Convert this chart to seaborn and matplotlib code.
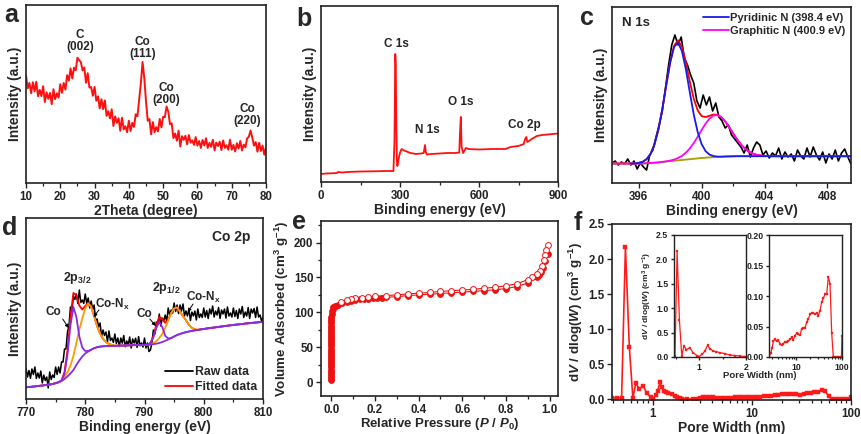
import numpy as np
import matplotlib
matplotlib.use("Agg")
import matplotlib.pyplot as plt
from matplotlib.ticker import MultipleLocator, FixedLocator, LogLocator, NullFormatter, FuncFormatter
from matplotlib.lines import Line2D
import seaborn as sns

# ---------------- data ----------------
# (a) XRD, 10-80 deg, 0.5 deg steps (relative intensity)
xrd_int = [60.5, 53.2, 56.2, 50.4, 56.6, 51.5, 56.9, 48.7, 52.3, 48.8, 54.4, 45.5, 50.9, 47.3, 50.6,
           44.3, 52.7, 47.1, 50.4, 48.0, 55.5, 50.7, 56.2, 52.4, 60.6, 57.5, 64.4, 58.7, 64.8, 63.3,
           70.4, 69.0, 67.9, 63.3, 64.9, 56.3, 61.7, 53.6, 53.9, 49.0, 54.0, 46.2, 48.7, 41.9, 47.1,
           41.5, 46.4, 37.7, 40.3, 36.3, 41.4, 32.0, 37.4, 33.8, 36.4, 29.3, 36.7, 30.1, 31.9, 28.5,
           35.0, 29.2, 33.8, 31.5, 38.6, 37.5, 47.0, 56.0, 68.0, 59.0, 46.0, 35.0, 35.9, 27.3, 34.2,
           28.6, 31.4, 29.0, 36.0, 31.2, 37.2, 37.0, 43.0, 40.0, 33.0, 33.5, 25.2, 27.8, 23.8, 29.4,
           20.5, 26.3, 24.2, 26.5, 21.7, 26.9, 22.7, 24.0, 21.4, 25.8, 21.0, 23.6, 19.7, 24.2, 21.1,
           25.2, 19.7, 22.5, 20.3, 24.3, 18.3, 22.7, 20.8, 23.2, 18.5, 23.9, 19.7, 21.2, 18.7, 24.3,
           18.7, 21.4, 17.7, 22.3, 19.4, 23.6, 18.3, 21.6, 20.0, 25.0, 26.0, 29.5, 25.5, 21.0, 23.0,
           17.6, 22.6, 18.0, 21.0, 15.9, 20.0]
xrd_theta = np.linspace(10, 80, len(xrd_int))
xrd_labels = [("C\n(002)", 25.7, 80), ("Co\n(111)", 44.0, 76), ("Co\n(200)", 51.0, 50), ("Co\n(220)", 74.5, 38)]

# (b) XPS survey
svy_be = [0, 20, 40, 60, 65, 80, 100, 150, 200, 250, 275, 279, 282, 284, 286, 288, 290, 293, 297, 301,
          306, 312, 320, 340, 360, 380, 390, 395, 398, 402, 420, 450, 480, 510, 525, 528, 531, 534, 540,
          550, 560, 600, 650, 700, 720, 750, 770, 775, 780, 783, 790, 800, 820, 840, 860, 880, 900]
svy_int = [8, 8.5, 8.7, 9, 10, 9.5, 10, 10.5, 10.7, 11, 11, 40, 128, 118, 60, 22, 16, 20, 26, 30,
           33, 32, 31, 29, 28, 28.5, 29, 37, 30, 27.5, 28, 28.5, 29, 29, 29.5, 50, 65, 35, 29,
           34, 33, 32.5, 33, 33, 35, 36, 38, 43, 45, 40, 41, 43, 46, 47, 47.5, 48, 48.5]
svy_labels = [("C 1s", 285, 138), ("N 1s", 404, 52), ("O 1s", 531, 80), ("Co 2p", 774, 57)]

# (c) N 1s
n1s_raw = [20, 22, 18, 21, 19, 24, 18, 22, 14, 20, 16, 13, 28, 33, 46, 58, 72, 95, 118, 138, 148,
           138, 146, 125, 118, 108, 100, 82, 75, 88, 78, 86, 72, 80, 66, 62, 55, 58, 48, 44, 40, 36,
           30, 38, 26, 35, 41, 38, 28, 32, 25, 30, 27, 35, 24, 31, 26, 29, 22, 33, 27, 24, 35, 26, 36,
           28, 23, 31, 20, 29, 24, 33, 22, 30, 34, 26, 19]
n1s_raw_be = np.linspace(394.3, 409.5, len(n1s_raw))
n1s_be = np.linspace(394.0, 410.0, 65)
n1s_bg = ([19.5] * 9 +
          [19.6, 19.8, 20.0, 20.3, 20.6, 21.0, 21.4, 21.8, 22.2, 22.6, 23.0, 23.4, 23.8, 24.2, 24.6,
           25.0, 25.3, 25.6, 25.9, 26.1, 26.3, 26.5, 26.6, 26.7] +
          [26.8] * 32)
n1s_pyr = ([0.0] * 8 +
           [0.6, 1.6, 4.0, 9.0, 18.2, 32.8, 52.9, 76.3, 98.6, 113.9, 117.8, 108.9, 90.2, 66.8, 44.3,
            26.3, 13.9, 6.6, 2.8, 1.1, 0.3] +
           [0.0] * 36)
n1s_gra = ([0.0] * 14 +
           [0.1, 0.3, 0.6, 1.2, 2.4, 4.2, 6.9, 10.8, 15.8, 21.7, 28.0, 34.0, 38.8, 41.5, 41.8, 39.5,
            35.1, 29.3, 22.9, 16.9, 11.7, 7.6, 4.6, 2.6, 1.4, 0.7, 0.3] +
           [0.0] * 24)

# (d) Co 2p
co_raw = [31, 22, 28.5, 20.7, 30, 24.5, 32, 20.5, 26, 21, 28, 16, 24, 18.5, 22, 11, 27, 19.5, 24, 21.5,
          32, 24.5, 32, 26, 37, 37, 50, 50, 67, 73, 92, 88, 103, 99.5, 105, 95.5, 109, 96.5, 99, 95.5,
          105, 95.5, 101, 91, 98, 89.5, 94, 78.5, 80, 72, 76, 62.5, 69, 63.5, 67, 57.5, 68, 58.5, 61,
          56.5, 65, 55.5, 61, 52.5, 61, 55.8, 63.5, 52.2, 58, 54, 62, 51, 60, 56, 60.8, 51.6, 62.4,
          53.2, 56, 52, 61, 51, 56, 47.5, 49, 56, 69, 65, 77, 75, 85, 73, 81, 78, 84, 77.5, 91, 84, 89,
          86, 96, 87.5, 94, 85.5, 94, 88, 95, 83, 88, 83, 90, 78.5, 87, 83, 88, 79, 90, 81.5, 85, 81.5,
          91, 82, 88.5, 80.5, 90, 85, 93, 82, 88, 84, 91.5, 80.5, 89, 85, 90, 81, 92, 83, 86, 82, 91,
          82.5, 88.5, 80.5, 90, 85, 92.5, 81.5, 87, 83, 91.5, 80.5, 90, 86, 90.5, 81.5, 92, 82, 84, 78, 82]
co_raw_be = np.linspace(770, 810, len(co_raw))
co_be = np.linspace(770, 810, 81)
co_bg = [11.7, 12, 12.3, 12.6, 13, 13.3, 13.7, 14.1, 14.5, 15, 15.8, 16.8, 18, 20, 22.5, 25.5, 29, 34,
         38.5, 42.5, 45.5, 47.5, 49.3, 50.8, 51.8, 52.4, 52.7, 52.9, 53, 53.1, 53.2, 53.3, 53.4, 53.5,
         53.6, 53.7, 53.8, 53.9, 54, 54, 54.1, 54.2, 54.4, 54.8, 55.3, 56, 57, 58.2, 59.5, 61, 62.5, 64,
         65, 66, 66.8, 67.5, 68.1, 68.6, 69.1, 69.6, 70, 70.5, 70.9, 71.3, 71.7, 72.1, 72.5, 72.9, 73.3,
         73.7, 74, 74.4, 74.7, 75, 75.4, 75.7, 76, 76.3, 76.6, 76.9, 77.2]
co_metal = ([0.0] * 12 + [0.5, 5, 22, 48, 63, 48, 24, 9, 2.5, 0.5] + [0.0] * 20 +
            [1.5, 7, 16, 21, 15, 5, 1] + [0.0] * 32)
co_nx = ([0.0] * 13 + [2, 4, 8, 14, 22, 31, 38, 45, 48, 43, 32, 21, 13, 7.5, 4, 2, 1] + [0.0] * 13 +
         [1, 2.5, 5, 8, 13, 19, 25, 28, 27.5, 22, 17, 12, 6.5, 3, 1] + [0.0] * 23)

# (e) N2 isotherm
ads_p = ([0.001] * 31 + [0.002, 0.004, 0.007, 0.01, 0.015, 0.02, 0.03, 0.05, 0.07, 0.09, 0.11, 0.13,
         0.15, 0.17, 0.19, 0.21, 0.23, 0.25, 0.3, 0.35, 0.4, 0.45, 0.5, 0.55, 0.6, 0.65, 0.7, 0.75,
         0.8, 0.85, 0.9, 0.94, 0.95, 0.96, 0.97, 0.98, 0.99])
ads_v = ([3, 6, 9, 12, 15, 18, 21, 24, 27, 30, 33, 36, 39, 42, 45, 48, 51, 54, 57, 60, 63, 66, 69, 72,
          75, 78, 81, 84, 87, 90, 93] +
         [98, 102, 105, 107, 108.5, 109.5, 111, 113.5, 115, 116.5, 117.5, 118.5, 119, 119.5, 120,
          120.5, 121, 121.5, 122.5, 124, 125, 126, 127, 128, 129, 130, 131, 132.5, 134, 137, 142,
          150, 153, 158, 163, 173, 183])
des_p = [0.99, 0.985, 0.98, 0.975, 0.965, 0.955, 0.94, 0.92, 0.9, 0.85, 0.8, 0.75, 0.7, 0.65, 0.6,
         0.55, 0.5, 0.45, 0.4, 0.35, 0.3, 0.25, 0.2, 0.17, 0.14, 0.11, 0.09, 0.07, 0.045]
des_v = [196, 190, 182, 175, 166, 160, 155, 150, 147, 141, 138, 136, 134.5, 133, 132, 131, 130,
         128.5, 127.5, 126.5, 125, 124, 123, 122, 121, 120, 119, 117.5, 115.5]

# (f) pore size distribution
pw_small = [0.39, 0.44, 0.485, 0.53, 0.58, 0.63, 0.675, 0.73, 0.8, 0.87, 0.95, 1.0, 1.07, 1.12, 1.18,
            1.23, 1.3, 1.37, 1.44, 1.55, 1.66, 1.77, 1.87, 1.98]
dv_small = [0.02, 0.02, 0.02, 2.17, 0.75, 0.02, 0.23, 0.15, 0.19, 0.09, 0.03, 0.01, 0.06, 0.12, 0.24,
            0.17, 0.12, 0.11, 0.09, 0.07, 0.04, 0.03, 0.02, 0.01]
pw_large = [2.2, 2.57, 2.8, 3.0, 3.2, 3.47, 3.75, 4.1, 4.46, 4.9, 5.27, 5.7, 6.2, 6.8, 7.4, 8.0, 8.7,
            9.4, 10.3, 11.2, 12.2, 13.2, 14.4, 15.6, 17.0, 18.5, 20.1, 21.9, 23.7, 25.8, 28.1, 30.5,
            33.2, 36.0, 39.2, 42.6, 46.4, 50.4, 54.8, 59.6, 64.6, 70, 76, 83, 90, 97, 100]
dv_large = [0.01, 0.0, 0.007, 0.014, 0.026, 0.029, 0.026, 0.028, 0.021, 0.019, 0.022, 0.024, 0.025,
            0.026, 0.029, 0.032, 0.028, 0.035, 0.039, 0.037, 0.036, 0.046, 0.048, 0.047, 0.057, 0.062,
            0.070, 0.072, 0.072, 0.070, 0.072, 0.068, 0.076, 0.090, 0.096, 0.103, 0.103, 0.131, 0.120,
            0.040, 0.0, 0.0, 0.0, 0.0, 0.0, 0.0, 0.035]

# ---------------- style ----------------
sns.set_theme(style="ticks")
plt.rcParams.update({
    "font.family": ["Liberation Sans", "DejaVu Sans"],
    "font.weight": "bold",
    "axes.labelweight": "bold",
    "axes.linewidth": 1.2,
    "axes.edgecolor": "#222222",
    "xtick.color": "#222222", "ytick.color": "#222222",
    "xtick.labelsize": 8.3, "ytick.labelsize": 8.3,
    "xtick.major.size": 3.5, "ytick.major.size": 3.5,
    "xtick.minor.size": 2.0, "ytick.minor.size": 2.0,
    "xtick.major.width": 1.0, "ytick.major.width": 1.0,
    "xtick.minor.width": 0.9, "ytick.minor.width": 0.9,
    "xtick.major.pad": 2.0, "ytick.major.pad": 2.0,
    "axes.labelsize": 10,
    "mathtext.fontset": "custom",
    "mathtext.rm": "Liberation Sans:bold",
    "mathtext.it": "Liberation Sans:italic:bold",
    "mathtext.bf": "Liberation Sans:bold",
    "mathtext.default": "rm",
})

W, H = 861, 434
fig = plt.figure(figsize=(W / 100, H / 100), dpi=100)


def rect(l, t, r, b):
    return [l / W, 1 - b / H, (r - l) / W, (b - t) / H]


def line(ax, x, y, color, lw=1.2, **kw):
    sns.lineplot(x=np.asarray(x, float), y=np.asarray(y, float), ax=ax, color=color, linewidth=lw,
                 sort=False, estimator=None, errorbar=None, legend=False, **kw)


def box(ax):
    for s in ax.spines.values():
        s.set_visible(True)
        s.set_linewidth(1.2)
    ax.tick_params(top=False, right=False, direction="out")


def letter(txt, x, y):
    fig.text(x / W, 1 - y / H, txt, fontsize=18, fontweight="bold", ha="left", va="baseline")


RED = "#ff1010"
ANN = 8.5

# ---- (a) ----
axa = fig.add_axes(rect(26, 5, 266, 183))
line(axa, xrd_theta, xrd_int, RED, 1.4)
axa.set_xlim(10, 80)
axa.set_ylim(0, 100)
axa.xaxis.set_major_locator(MultipleLocator(10))
axa.xaxis.set_minor_locator(MultipleLocator(5))
axa.set_yticks([])
axa.set_xlabel("2Theta (degree)", labelpad=1)
axa.set_ylabel("Intensity (a.u.)", labelpad=3)
for t, x, y in xrd_labels:
    axa.text(x, y, t, ha="center", va="center", fontsize=ANN, fontweight="bold", linespacing=1.0)
box(axa)

# ---- (b) ----
axb = fig.add_axes(rect(321, 6, 558, 182))
line(axb, svy_be, svy_int, RED, 1.3)
axb.set_xlim(0, 900)
axb.set_ylim(0, 176)
axb.xaxis.set_major_locator(FixedLocator([0, 300, 600, 900]))
axb.xaxis.set_minor_locator(FixedLocator([150, 450, 750]))
axb.set_yticks([])
axb.set_xlabel("Binding energy (eV)", labelpad=1)
axb.set_ylabel("Intensity (a.u.)", labelpad=3)
for t, x, y in svy_labels:
    axb.text(x, y, t, ha="center", va="center", fontsize=ANN, fontweight="bold")
box(axb)

# ---- (c) ----
axc = fig.add_axes(rect(612, 7, 851, 183))
bg_c = np.array(n1s_bg)
pyr_c = bg_c + np.array(n1s_pyr)
gra_c = bg_c + np.array(n1s_gra)
env_c = bg_c + np.array(n1s_pyr) + np.array(n1s_gra)
line(axc, n1s_raw_be, n1s_raw, "black", 1.2)
line(axc, n1s_be, env_c, "#ff0000", 1.3)
line(axc, n1s_be, bg_c, "#a0a000", 1.3)
line(axc, n1s_be, gra_c, "#ff00ff", 1.3)
line(axc, n1s_be[6:], pyr_c[6:], "#1a1ae6", 1.3)
axc.set_xlim(394.3, 409.5)
axc.set_ylim(0, 176)
axc.xaxis.set_major_locator(MultipleLocator(4))
axc.xaxis.set_minor_locator(MultipleLocator(2))
axc.set_yticks([])
axc.set_xlabel("Binding energy (eV)", labelpad=1)
axc.set_ylabel("Intensity (a.u.)", labelpad=3)
axc.text(0.04, 0.91, "N 1s", transform=axc.transAxes, fontsize=9.5, fontweight="bold", va="center")
hc = [Line2D([], [], color="#1a1ae6", lw=1.3), Line2D([], [], color="#ff00ff", lw=1.3)]
axc.legend(hc, ["Pyridinic N (398.4 eV)", "Graphitic N (400.9 eV)"], loc="upper right",
           frameon=False, fontsize=8, handlelength=2.3, handletextpad=0.15, labelspacing=0.3,
           borderaxespad=0.3, borderpad=0.2)
box(axc)

# ---- (d) ----
axd = fig.add_axes(rect(26, 218, 263, 399))
bg_d = np.array(co_bg)
met_d = bg_d + np.array(co_metal)
nx_d = bg_d + np.array(co_nx)
env_d = bg_d + np.array(co_metal) + np.array(co_nx)
PURPLE = "#8a2be2"
ORANGE = "#ff9a00"
line(axd, co_raw_be, co_raw, "black", 1.1)
line(axd, co_be, env_d, "#ff0000", 1.3)
line(axd, co_be, nx_d, ORANGE, 1.3)
line(axd, co_be, bg_d, PURPLE, 1.3)
line(axd, co_be, met_d, PURPLE, 1.3)
axd.set_xlim(770, 810)
axd.set_ylim(0, 181)
axd.xaxis.set_major_locator(MultipleLocator(10))
axd.xaxis.set_minor_locator(MultipleLocator(5))
axd.set_yticks([])
axd.set_xlabel("Binding energy (eV)", labelpad=1)
axd.set_ylabel("Intensity (a.u.)", labelpad=3)
axd.text(804.6, 162, "Co 2p", ha="center", va="center", fontsize=10, fontweight="bold")
axd.text(778.6, 121, "2p$_{3/2}$", ha="center", va="center", fontsize=9, fontweight="bold")
axd.text(793.7, 111, "2p$_{1/2}$", ha="center", va="center", fontsize=9, fontweight="bold")
anns = [("Co", (774.6, 87), (776.2, 80), (777.2, 71)),
        ("Co-N$_x$", (784.6, 95), (782.3, 89), (781.4, 82)),
        ("Co", (789.9, 85), (790.9, 80), (791.9, 73)),
        ("Co-N$_x$", (800.0, 102), (798.2, 95), (797.3, 87))]
for t, pos, tail, tip in anns:
    axd.text(pos[0], pos[1], t, ha="center", va="center", fontsize=ANN, fontweight="bold")
    axd.annotate("", xy=tip, xytext=tail,
                 arrowprops=dict(arrowstyle="-|>", lw=0.7, color="black", mutation_scale=5,
                                 shrinkA=0, shrinkB=0))
hd = [Line2D([], [], color="black", lw=1.3), Line2D([], [], color="#ff0000", lw=1.3)]
axd.legend(hd, ["Raw data", "Fitted data"], loc="lower right", frameon=False, fontsize=8.8,
           handlelength=2.3, handletextpad=0.15, labelspacing=0.3, borderaxespad=0.25, borderpad=0.2)
box(axd)

# ---- (e) ----
axe = fig.add_axes(rect(321, 221, 558, 396))
ER = "#ee1111"
line(axe, ads_p, ads_v, ER, 0.8, marker="o", markersize=4.2, markerfacecolor=ER,
     markeredgecolor=ER, markeredgewidth=0.6)
line(axe, des_p, des_v, ER, 0.8, marker="o", markersize=4.2, markerfacecolor="white",
     markeredgecolor=ER, markeredgewidth=0.7)
axe.set_xlim(-0.047, 1.038)
axe.set_ylim(-20, 231)
axe.xaxis.set_major_locator(MultipleLocator(0.2))
axe.xaxis.set_minor_locator(MultipleLocator(0.1))
axe.yaxis.set_major_locator(MultipleLocator(50))
axe.yaxis.set_minor_locator(MultipleLocator(25))
axe.xaxis.set_major_formatter(FuncFormatter(lambda v, p: f"{v:.1f}"))
axe.set_xlabel("Relative Pressure ($\\mathit{P}$ / $\\mathit{P}_{0}$)", fontsize=9.5, labelpad=0)
axe.set_ylabel("Volume Adsorbed (cm$^{3}$ g$^{-1}$)", labelpad=2, fontsize=9.6)
box(axe)

# ---- (f) ----
axf = fig.add_axes(rect(612, 224, 851, 400))
FR = "#ff1a1a"
pw_all = pw_small + pw_large
dv_all = dv_small + dv_large
line(axf, pw_all, dv_all, FR, 1.2, marker="s", markersize=3.4, markerfacecolor=FR,
     markeredgecolor=FR, markeredgewidth=0.3)
axf.set_xscale("log")
axf.set_xlim(0.388, 100)
axf.set_ylim(-0.01, 2.5)
axf.xaxis.set_major_locator(FixedLocator([1, 10, 100]))
axf.xaxis.set_minor_locator(LogLocator(base=10, subs=np.arange(2, 10)))
axf.xaxis.set_minor_formatter(NullFormatter())
axf.xaxis.set_major_formatter(FuncFormatter(lambda v, p: f"{v:g}"))
axf.yaxis.set_major_locator(MultipleLocator(0.5))
axf.yaxis.set_major_formatter(FuncFormatter(lambda v, p: f"{v:.1f}"))
axf.set_xlabel("Pore Width (nm)", labelpad=1)
axf.set_ylabel("d$\\mathit{V}$ / dlog($\\mathit{W}$) (cm$^{3}$ g$^{-1}$)", labelpad=2, fontsize=9.6)
box(axf)

# insets
ai1 = fig.add_axes(rect(674, 235, 746, 357))
line(ai1, pw_small, dv_small, FR, 0.9, marker="s", markersize=2.0, markerfacecolor=FR,
     markeredgecolor=FR, markeredgewidth=0.2)
ai1.set_xlim(0.464, 2.0)
ai1.set_ylim(0, 2.5)
ai1.xaxis.set_major_locator(FixedLocator([1, 2]))
ai1.xaxis.set_minor_locator(FixedLocator([0.5, 1.5]))
ai1.yaxis.set_major_locator(MultipleLocator(0.5))
ai1.yaxis.set_major_formatter(FuncFormatter(lambda v, p: f"{v:.1f}"))
ai1.tick_params(labelsize=6.3, length=2.5, pad=1.5)
ai1.tick_params(which="minor", length=1.5)
ai1.set_ylabel("d$\\mathit{V}$ / dlog($\\mathit{W}$) (cm$^{3}$ g$^{-1}$)", fontsize=6, labelpad=1.5)
box(ai1)
for s in ai1.spines.values():
    s.set_linewidth(1.0)

ai2 = fig.add_axes(rect(769, 235, 842, 357))
line(ai2, pw_large, dv_large, FR, 0.9, marker="s", markersize=2.0, markerfacecolor=FR,
     markeredgecolor=FR, markeredgewidth=0.2)
ai2.set_xscale("log")
ai2.set_xlim(2.57, 100)
ai2.set_ylim(0, 0.2)
ai2.xaxis.set_major_locator(FixedLocator([10, 100]))
ai2.xaxis.set_minor_locator(LogLocator(base=10, subs=np.arange(2, 10)))
ai2.xaxis.set_minor_formatter(NullFormatter())
ai2.xaxis.set_major_formatter(FuncFormatter(lambda v, p: f"{v:g}"))
ai2.yaxis.set_major_locator(MultipleLocator(0.05))
ai2.yaxis.set_major_formatter(FuncFormatter(lambda v, p: f"{v:.2f}"))
ai2.tick_params(labelsize=6.3, length=2.5, pad=1.5)
ai2.tick_params(which="minor", length=1.5)
box(ai2)
for s in ai2.spines.values():
    s.set_linewidth(1.0)
fig.text(760 / W, 1 - 375 / H, "Pore Width (nm)", fontsize=6.8, fontweight="bold", ha="center", va="center")

# panel letters
letter("a", 4, 22)
letter("b", 296, 26)
letter("c", 580, 25)
letter("d", 2, 235)
letter("e", 292, 229)
letter("f", 574, 230)

fig.savefig("out.png", dpi=100)
